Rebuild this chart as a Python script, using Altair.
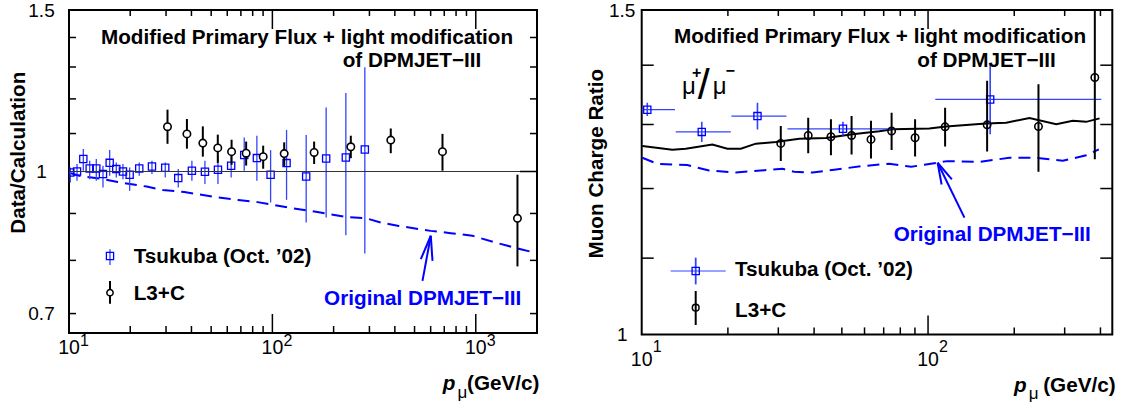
import altair as alt
import pandas as pd

FONT = "Liberation Sans"
BLUE = "#0000ff"
EBLUE = "#3344ff"
FS = 20.7

# ---------------- Left panel: Data / Calculation ----------------
l3c_p_left = [30.5, 38.0, 45.5, 53.9, 63.0, 74.3, 90.1, 114.3, 160.4, 243, 382, 686, 1603]
l3c_v_left = [1.119, 1.099, 1.074, 1.061, 1.051, 1.047, 1.038, 1.046, 1.049, 1.064, 1.082, 1.051, 0.889]
l3c_lo_left = [1.072, 1.059, 1.038, 1.022, 1.017, 1.015, 1.007, 1.014, 1.019, 1.034, 1.047, 1.002, 0.788]
l3c_hi_left = [1.168, 1.141, 1.120, 1.097, 1.083, 1.078, 1.067, 1.076, 1.078, 1.094, 1.114, 1.099, 0.992]

tsu_p_left = [10.15, 10.95, 11.76, 12.64, 13.62, 14.69, 15.85, 17.08, 18.42, 19.87, 22.15, 25.58, 29.73,
              34.45, 40.2, 46.6, 54.0, 62.7, 72.7, 83.9, 98.0, 117.4, 146.6, 183.8, 229.7, 284.8]
tsu_v_left = [0.9975, 1.0, 1.0317, 1.0076, 1.0076, 0.9935, 1.022, 1.006, 1.0, 0.9917, 1.0076, 1.0126, 1.0093,
              0.9836, 1.0018, 0.9992, 1.0043, 1.0144, 1.0421, 1.0342, 0.9917, 1.0213, 0.9875, 1.0332, 1.0358, 1.0568]
tsu_lo_left = [0.9727, 0.9769, 1.0018, 0.981, 0.9769, 0.9606, 0.9893, 0.985, 0.981, 0.9527, 0.9893, 0.9935, 0.985,
               0.9606, 0.9769, 0.9689, 0.9689, 0.985, 1.0018, 0.9769, 0.9251, 0.9313, 0.8796, 0.8908, 0.8522, 0.8139]
tsu_hi_left = [1.0101, 1.0188, 1.0579, 1.0273, 1.0317, 1.0144, 1.0552, 1.0229, 1.0188, 1.0101, 1.0229, 1.0273, 1.0229,
               1.006, 1.0273, 1.0273, 1.0403, 1.0447, 1.0892, 1.0938, 1.0552, 1.1097, 1.0958, 1.1744, 1.2179, 1.2988]

orig_p_left = [10.0, 11.24, 14.64, 17.35, 24.09, 28.87, 36.87, 54.2, 67.9, 84.6, 119.6, 163.6, 234.2, 288,
               341.4, 418.4, 601, 753.6, 963, 1297, 1664, 1972]
orig_v_left = [0.997, 0.9893, 0.9813, 0.974, 0.9628, 0.9546, 0.9498, 0.9367, 0.9309, 0.926, 0.9135, 0.9038,
               0.8917, 0.8895, 0.8797, 0.8723, 0.8615, 0.8566, 0.8509, 0.8348, 0.8228, 0.8151]

# arrow (tip -> tail, tip -> barbs), data coordinates
arrow_p0_left = [601, 601, 601]
arrow_v0_left = [0.851, 0.851, 0.851]
arrow_p1_left = [547, 536.7, 612.6]
arrow_v1_left = [0.7598, 0.8024, 0.7989]

# ---------------- Right panel: Muon charge ratio ----------------
l3c_p_right = [30.6, 38.15, 45.8, 54.07, 63.2, 74.6, 90.1, 114.7, 160.8, 243, 382.3]
l3c_v_right = [1.2696, 1.2823, 1.2803, 1.2823, 1.276, 1.2894, 1.2786, 1.2962, 1.2994, 1.2967, 1.3787]
l3c_lo_right = [1.2422, 1.2541, 1.2509, 1.2523, 1.2459, 1.2594, 1.249, 1.2646, 1.2568, 1.2255, 1.2448]
l3c_hi_right = [1.2975, 1.3108, 1.3086, 1.3137, 1.3062, 1.3191, 1.3086, 1.3274, 1.3732, 1.3672, 1.4985]

tsu_p_right = [10.46, 16.21, 25.37, 50.45, 164.8]
tsu_plo_right = [9.5, 13.15, 20.57, 32.29, 106]
tsu_phi_right = [13.07, 20.47, 32.03, 77.3, 402.7]
tsu_v_right = [1.3243, 1.288, 1.3137, 1.293, 1.3413]
tsu_vlo_right = [1.3137, 1.272, 1.2918, 1.2823, 1.2842]
tsu_vhi_right = [1.3357, 1.3043, 1.3357, 1.3043, 1.4016]

mod_p_right = [10.05, 12.79, 14.25, 17.65, 19.92, 22.19, 25.04, 29.42, 35.48, 43.99, 54.5, 67.56, 75.2, 101,
               115.6, 159.5, 187.4, 226, 280.3, 320.3, 356.8, 397.2]
mod_v_right = [1.2656, 1.2597, 1.2613, 1.2677, 1.2613, 1.2613, 1.2692, 1.2719, 1.2772, 1.2783, 1.2841, 1.289,
               1.2922, 1.2934, 1.2966, 1.3017, 1.3029, 1.3107, 1.3003, 1.306, 1.3043, 1.31]

orig_p_right = [10.05, 11.34, 14.43, 17.19, 21.32, 26.77, 31.01, 34.08, 39.5, 47.03, 59.07, 73.2, 87.4, 98.4,
                116.8, 151.1, 192.4, 238.6, 295.6, 356.8, 395]
orig_v_right = [1.247, 1.2377, 1.2357, 1.2273, 1.2243, 1.2277, 1.23, 1.2254, 1.2243, 1.2285, 1.2342, 1.2377,
                1.2331, 1.2366, 1.2418, 1.2407, 1.247, 1.247, 1.2423, 1.2509, 1.2601]

arrow_p0_right = [108, 108, 108]
arrow_v0_right = [1.2393, 1.2393, 1.2393]
arrow_p1_right = [134, 111.5, 121.1]
arrow_v1_right = [1.1572, 1.2061, 1.2138]

# ---------------- ticks / labels ----------------
xminor_left = [20, 30, 40, 50, 60, 70, 80, 90, 200, 300, 400, 500, 600, 700, 800, 900, 2000]
xmajor_left = [100, 1000]
ytick_left = [0.7, 0.8, 0.9, 1.1, 1.2, 1.3, 1.4]
ymajor_left = [1.0]
ylabels_left = [0.7, 1, 1.5]
xlab_p_left = [10, 100, 1000]
xlab_exp_left = ["1", "2", "3"]

xminor_right = [20, 30, 40, 50, 60, 70, 80, 90, 200, 300, 400]
xmajor_right = [100]
ytick_right = [1.1, 1.2, 1.3, 1.4]
ylabels_right = [1, 1.5]
xlab_p_right = [10, 100]
xlab_exp_right = ["1", "2"]

HEAD1 = "Modified Primary Flux + light modification"
HEAD2 = "of DPMJET\u2212III"
ORIG = "Original DPMJET\u2212III"
TSU = "Tsukuba (Oct. \u201902)"
L3C = "L3+C"

WL, HL = 468, 323
WR, HR = 470.6, 324.4

xsL = alt.Scale(type="log", domain=[10, 2000], nice=False)
ysL = alt.Scale(type="log", domain=[1 / 1.5, 1.5], nice=False)
xsR = alt.Scale(type="log", domain=[10, 440], nice=False)
ysR = alt.Scale(type="log", domain=[1, 1.5], nice=False)


def yaxis(values, pad):
    return alt.Axis(values=values, format=".1~f", title=None, ticks=False, domain=False, grid=False,
                    tickSize=0, labelAlign="center", labelBaseline="middle", labelPadding=pad,
                    labelFont=FONT, labelFontSize=19, labelColor="black", labelOverlap=False)


def text(t, x, y, size=FS, weight="bold", color="black", align="left", baseline="alphabetic",
         angle=0, style="normal"):
    return alt.Chart(pd.DataFrame({"t": [t]})).mark_text(
        font=FONT, fontSize=size, fontWeight=weight, color=color, align=align, baseline=baseline,
        angle=angle, fontStyle=style
    ).encode(x=alt.value(x), y=alt.value(y), text="t:N")


def panel(xs, ys, yax, W, H, l3c, tsu, lines, arrows, ticks, xlabs, ann):
    X = lambda f: alt.X(f"{f}:Q", scale=xs, axis=None)
    Y = lambda f: alt.Y(f"{f}:Q", scale=ys, axis=yax)
    layers = []
    for df, color, dash in lines:
        m = dict(color=color, strokeWidth=2, clip=True)
        if dash:
            m["strokeDash"] = [12, 7]
        layers.append(alt.Chart(df).mark_line(**m).encode(x=X("p"), y=Y("v"), order="p:Q"))
    tdf, hbars = tsu
    layers.append(alt.Chart(tdf).mark_rule(color=EBLUE, strokeWidth=1.6 if hbars else 1.3, clip=True)
                  .encode(x=X("p"), y=Y("lo"), y2="hi:Q"))
    if hbars:
        layers.append(alt.Chart(tdf).mark_rule(color=EBLUE, strokeWidth=1.2, clip=True)
                      .encode(x=X("plo"), x2="phi:Q", y=Y("v")))
    layers.append(alt.Chart(tdf).mark_point(shape="square", size=52, filled=False, color=BLUE,
                                            strokeWidth=1.3, opacity=1, clip=True)
                  .encode(x=X("p"), y=Y("v")))
    cdf, cfill = l3c
    layers.append(alt.Chart(cdf).mark_rule(color="black", strokeWidth=2, clip=True)
                  .encode(x=X("p"), y=Y("lo"), y2="hi:Q"))
    layers.append(alt.Chart(cdf).mark_point(shape="circle", size=55, filled=cfill is not None,
                                            fill=cfill if cfill else "transparent", stroke="black",
                                            strokeWidth=1.6, opacity=1, clip=True)
                  .encode(x=X("p"), y=Y("v")))
    layers.append(alt.Chart(arrows).mark_rule(color=BLUE, strokeWidth=2)
                  .encode(x=X("p0"), y=Y("v0"), x2="p1:Q", y2="v1:Q"))
    xmin, xmaj, ymin, ylen, ymaj, ymajlen = ticks
    tk = dict(color="black", strokeWidth=1.5)
    dmin = pd.DataFrame({"t": xmin})
    dmaj = pd.DataFrame({"t": xmaj})
    layers += [
        alt.Chart(dmin).mark_rule(**tk).encode(x=X("t"), y=alt.value(H), y2=alt.value(H - 7)),
        alt.Chart(dmin).mark_rule(**tk).encode(x=X("t"), y=alt.value(0), y2=alt.value(6)),
        alt.Chart(dmaj).mark_rule(**tk).encode(x=X("t"), y=alt.value(H), y2=alt.value(H - 19)),
        alt.Chart(dmaj).mark_rule(**tk).encode(x=X("t"), y=alt.value(0), y2=alt.value(19)),
    ]
    dy = pd.DataFrame({"t": ymin})
    layers += [
        alt.Chart(dy).mark_rule(**tk).encode(y=Y("t"), x=alt.value(0), x2=alt.value(ylen)),
        alt.Chart(dy).mark_rule(**tk).encode(y=Y("t"), x=alt.value(W - ylen), x2=alt.value(W)),
    ]
    if ymaj:
        dym = pd.DataFrame({"t": ymaj})
        layers += [
            alt.Chart(dym).mark_rule(color="#333333", strokeWidth=1.2)
            .encode(y=Y("t"), x=alt.value(0), x2=alt.value(W)),
            alt.Chart(dym).mark_rule(**tk).encode(y=Y("t"), x=alt.value(W - ymajlen), x2=alt.value(W)),
        ]
    xl_df, y10, yexp = xlabs
    layers += [
        alt.Chart(xl_df).mark_text(font=FONT, fontSize=19.5, color="black", align="center",
                                   baseline="alphabetic")
        .encode(x=X("p"), y=alt.value(y10), text="base:N"),
        alt.Chart(xl_df).mark_text(font=FONT, fontSize=16, color="black", align="left",
                                   baseline="alphabetic", dx=11)
        .encode(x=X("p"), y=alt.value(yexp), text="exp:N"),
    ]
    layers += ann
    return alt.layer(*layers).properties(width=W, height=H)


def one(**kw):
    return alt.Chart(pd.DataFrame({"a": [0]}))


# ---------- left ----------
left_l3c = pd.DataFrame({"p": l3c_p_left, "v": l3c_v_left, "lo": l3c_lo_left, "hi": l3c_hi_left})
left_tsu = pd.DataFrame({"p": tsu_p_left, "v": tsu_v_left, "lo": tsu_lo_left, "hi": tsu_hi_left})
left_orig = pd.DataFrame({"p": orig_p_left, "v": orig_v_left})
left_arrow = pd.DataFrame({"p0": arrow_p0_left, "v0": arrow_v0_left, "p1": arrow_p1_left, "v1": arrow_v1_left})
left_xl = pd.DataFrame({"p": xlab_p_left, "base": ["10"] * 3, "exp": xlab_exp_left})

left_ann = [
    text("Data/Calculation", -50.5, 142.7, angle=270, align="center", baseline="middle"),
    text(HEAD1, 32, 33.5),
    text(HEAD2, 273.7, 57.2),
    text(ORIG, 353.7, 295, color=BLUE, align="center"),
    text(TSU, 64.7, 253),
    text(L3C, 64.7, 290.3),
    one().mark_rule(color=EBLUE, strokeWidth=1.3)
    .encode(x=alt.value(41), y=alt.value(239.3), y2=alt.value(255)),
    one().mark_point(shape="square", size=52, filled=False, color=BLUE, strokeWidth=1.3, opacity=1)
    .encode(x=alt.value(41), y=alt.value(246)),
    one().mark_rule(color="black", strokeWidth=2)
    .encode(x=alt.value(41), y=alt.value(271), y2=alt.value(293.7)),
    one().mark_point(shape="circle", size=40, filled=True, fill="white", stroke="black",
                     strokeWidth=1.5, opacity=1)
    .encode(x=alt.value(41), y=alt.value(282.7)),
    text("p", 373.7, HL + 57.3, style="italic"),
    text("\u03bc", 388.5, HL + 65, size=17, weight="normal"),
    text("(GeV/c)", 398, HL + 57.3),
]

left = panel(xsL, ysL, yaxis(ylabels_left, 28), WL, HL,
             (left_l3c, "white"), (left_tsu, False),
             [(left_orig, BLUE, True)], left_arrow,
             (xminor_left, xmajor_left, ytick_left, 7, ymajor_left, 17),
             (left_xl, HL + 21, HL + 13), left_ann)

# ---------- right ----------
right_l3c = pd.DataFrame({"p": l3c_p_right, "v": l3c_v_right, "lo": l3c_lo_right, "hi": l3c_hi_right})
right_tsu = pd.DataFrame({"p": tsu_p_right, "plo": tsu_plo_right, "phi": tsu_phi_right, "v": tsu_v_right,
                          "lo": tsu_vlo_right, "hi": tsu_vhi_right})
right_mod = pd.DataFrame({"p": mod_p_right, "v": mod_v_right})
right_orig = pd.DataFrame({"p": orig_p_right, "v": orig_v_right})
right_arrow = pd.DataFrame({"p0": arrow_p0_right, "v0": arrow_v0_right, "p1": arrow_p1_right, "v1": arrow_v1_right})
right_xl = pd.DataFrame({"p": xlab_p_right, "base": ["10"] * 2, "exp": xlab_exp_right})

right_ann = [
    text("Muon Charge Ratio", -45.2, 153.7, angle=270, align="center", baseline="middle"),
    text(HEAD1, 32.3, 33.0),
    text(HEAD2, 275.6, 57.2),
    text(ORIG, 350.6, 231, color=BLUE, align="center"),
    text("\u03bc", 40.3, 83.7, size=24, weight="normal"),
    text("+", 55, 62.7, size=16, align="center", baseline="middle"),
    text("/", 62, 89.4, size=43, weight="normal", align="center"),
    text("\u03bc", 71, 83.7, size=24, weight="normal"),
    text("\u2212", 88.5, 61, size=16, align="center", baseline="middle"),
    text(TSU, 93.3, 266),
    text(L3C, 93.3, 306.7),
    one().mark_rule(color=EBLUE, strokeWidth=1.2)
    .encode(x=alt.value(29), x2=alt.value(84), y=alt.value(261)),
    one().mark_rule(color=EBLUE, strokeWidth=1.8)
    .encode(x=alt.value(54), y=alt.value(247.7), y2=alt.value(274.4)),
    one().mark_point(shape="square", size=52, filled=False, color=BLUE, strokeWidth=1.3, opacity=1)
    .encode(x=alt.value(54), y=alt.value(261)),
    one().mark_rule(color="black", strokeWidth=2)
    .encode(x=alt.value(54), y=alt.value(281), y2=alt.value(315)),
    one().mark_point(shape="circle", size=45, filled=False, stroke="black", strokeWidth=1.5, opacity=1)
    .encode(x=alt.value(54), y=alt.value(297.7)),
    text("p", 372.3, HR + 57.3, style="italic"),
    text("\u03bc", 387, HR + 65, size=17, weight="normal"),
    text("(GeV/c)", 401.5, HR + 57.3),
]

right = panel(xsR, ysR, yaxis(ylabels_right, 20), WR, HR,
              (right_l3c, None), (right_tsu, True),
              [(right_mod, "black", False), (right_orig, BLUE, True)], right_arrow,
              (xminor_right, xmajor_right, ytick_right, 12, [], 0),
              (right_xl, HR + 32, HR + 18), right_ann)

chart = alt.hconcat(left, right, spacing=104.7, bounds="flush").properties(
    padding={"left": 6, "top": 0, "right": 0, "bottom": 0},
    background="white",
).configure_view(stroke="black", strokeWidth=2)

chart.save("out.html", embed_options={"renderer": "svg", "actions": False})
